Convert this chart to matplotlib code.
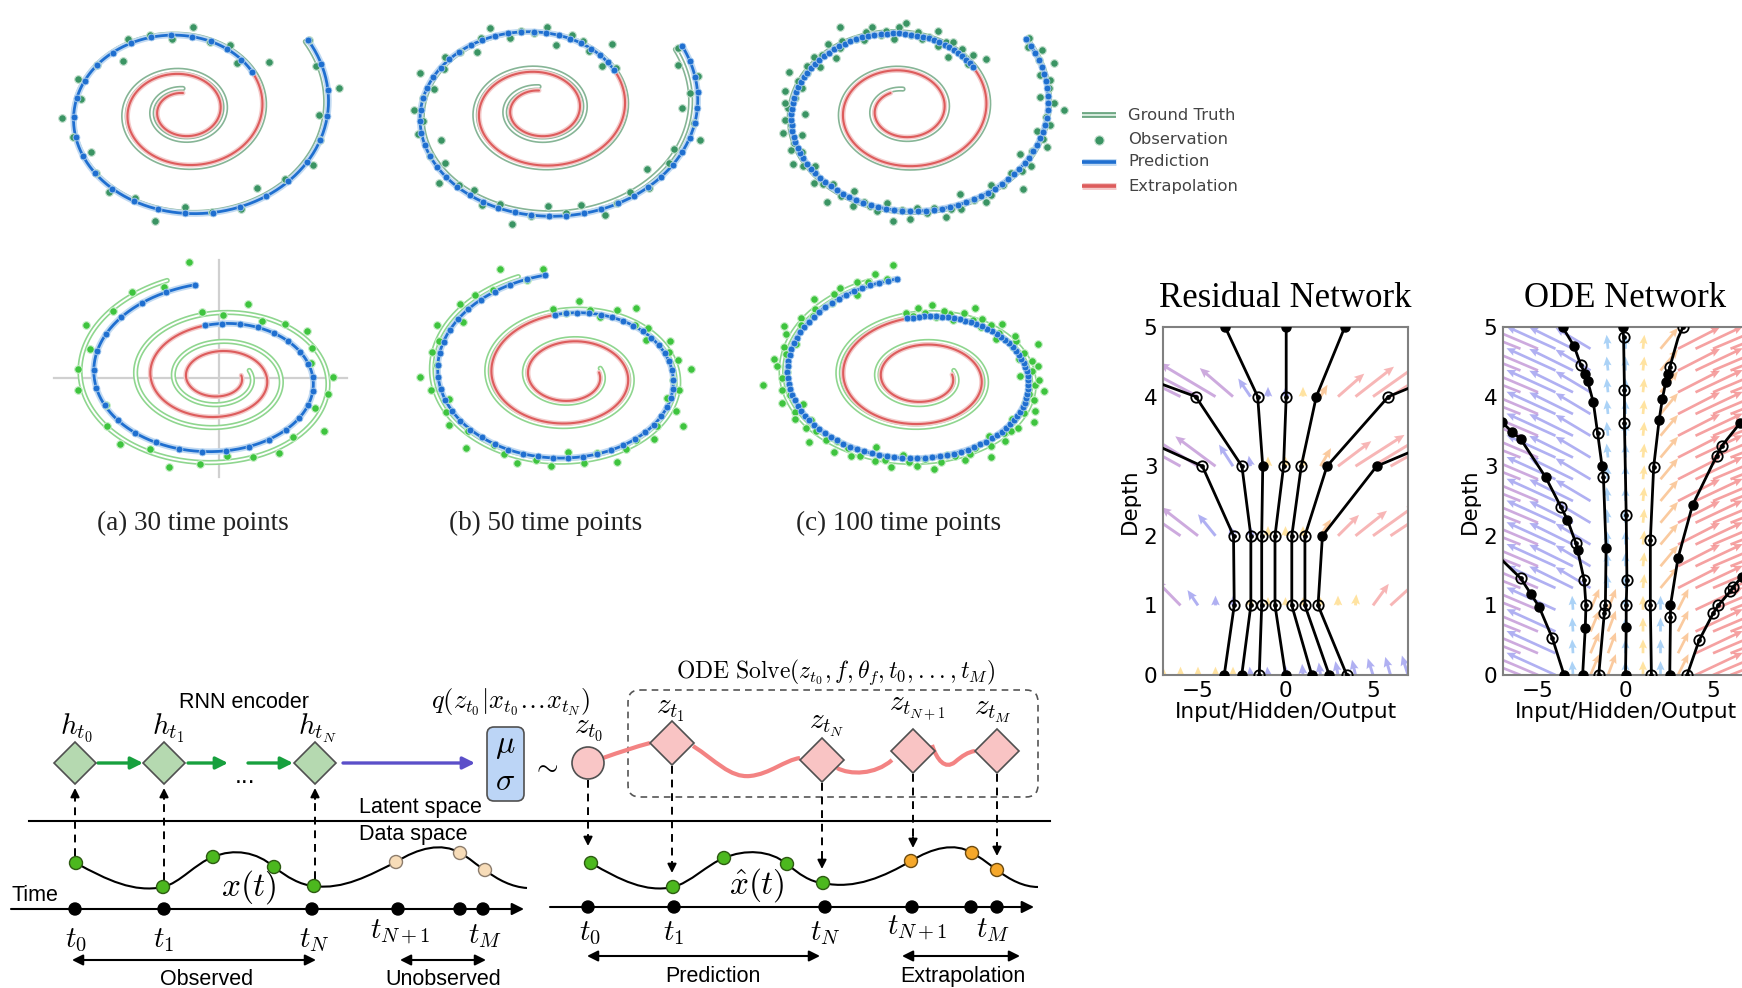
import numpy as np
import matplotlib
matplotlib.use("Agg")
import matplotlib.pyplot as plt
from matplotlib.patches import Polygon, Circle, FancyBboxPatch, PathPatch
from matplotlib.path import Path

W, H = 1742, 988
plt.rcParams['mathtext.fontset'] = 'cm'
plt.rcParams['font.family'] = ['DejaVu Sans']

# ---------------------------------------------------------------- spiral data
# spiral radius model r(s) = a + b*s + c*s^2, s = turns left before th_end
top_centers = [(183, 111), (539, 110), (903, 110)]
top_gt = [dict(a=27.8, b=11.1, c=11.1, sy=0.81), dict(a=30.3, b=12.6, c=11.4, sy=0.77),
          dict(a=26.5, b=16.4, c=9.85, sy=0.79)]
top_pred = [dict(a=22.2, b=11.1, c=12.2, sy=0.81), dict(a=25.3, b=10.1, c=13.9, sy=0.77),
            dict(a=23.4, b=16.4, c=10.1, sy=0.79)]
top_start = [35, 30, 36]
top_split = [-325, -325, -322]
top_stop = [-990, -990, -960]
top_end = -990

bot_centers = [(219, 378), (570, 376), (923, 378)]
bot_gt = [dict(a=32.2, b=18.9, c=8.9, sy=0.685), dict(a=32.2, b=18.9, c=8.84, sy=0.70),
          dict(a=32.8, b=19.3, c=9.1, sy=0.67)]
bot_pred = [dict(a=22.2, b=13.3, c=10.5, sy=0.675), dict(a=29, b=18.3, c=8.6, sy=0.70),
            dict(a=29, b=18.3, c=9.1, sy=0.67)]
bot_gt_start, bot_pred_start, bot_split, bot_stop, bot_end = 110, 100, 460, 1090, 1100

noise_30 = [4, -3, 14, -6, 2, 9, -2, -12, 5, 1, -7, 16, -3, 6, 0, -9, 3, 12, -4, 7,
            -1, -15, 5, 2, -6, 10, -2, 4, -8, 19]
noise_50 = [3, -5, 11, 0, -8, 6, 17, -3, 2, -12, 7, -1, 4, 14, -6, 1, -9, 5, 20, -2,
            8, -4, 0, 13, -7, 3, -15, 6, -1, 9, 2, -5, 16, -3, 7, 0, -10, 4, 12, -6,
            1, -2, 8, -13, 5, 3, -4, 18, -8, 2]
noise_100 = [2, -4, 7, -1, 12, -6, 3, 0, -9, 5, 15, -2, 4, -7, 1, 9, -3, -12, 6, 2,
             -5, 18, 0, -8, 3, 7, -1, -14, 5, 1, 10, -4, 2, -6, 8, -2, 13, -9, 4, 0,
             -3, 6, -11, 2, 16, -5, 1, 7, -2, -7, 3, 11, -4, 5, 0, -10, 8, -1, 4, -16,
             2, 6, -3, 9, -6, 1, 14, -2, 3, -8, 5, 0, -12, 7, -4, 2, 19, -1, -6, 4,
             8, -3, 1, -9, 6, 12, -2, 3, -5, 0, 10, -7, 2, 5, -13, 4, -1, 7, -4, 15]
noises = [noise_30, noise_50, noise_100]
captions = ["(a) 30 time points", "(b) 50 time points", "(c) 100 time points"]
caption_x = [193, 546, 899]

# ---------------------------------------------------------------- network data
res_x = list(range(-7, 8))
res_depths = [0, 1, 2, 3, 4]
res_u = [
    [0, 0, 0, 0, 0, -0.05, -0.05, 0, -0.05, -0.1, -0.15, -0.2, -0.3, -0.3, -0.35],
    [-2.2, -1.4, -0.6, 0, 0, 0, 0, 0, 0, 0, 0, 0.05, 0.9, 1.8, 2.5],
    [-3.2, -2.6, -2.1, -1.0, -0.2, 0, 0, 0, 0, 0.6, 1.2, 1.8, 2.5, 3.0, 3.5],
    [-4.2, -3.6, -3.0, -2.3, -0.8, -0.1, 0, 0, 0, 0.6, 1.9, 2.8, 3.3, 3.7, 4.0],
    [-5.2, -4.6, -4.0, -3.2, -1.9, -0.7, 0, 0, 0, 0.4, 1.5, 2.2, 2.7, 3.1, 3.5],
]
res_v = [
    [0.12, 0.12, 0.12, 0.12, 0.12, 0.12, 0.12, 0.14, 0.16, 0.18, 0.2, 0.22, 0.24, 0.26, 0.28],
    [0.45, 0.36, 0.22, 0.14, 0.14, 0.12, 0.12, 0.12, 0.12, 0.12, 0.14, 0.16, 0.31, 0.41, 0.45],
    [0.5, 0.45, 0.41, 0.31, 0.15, 0.14, 0.14, 0.14, 0.14, 0.24, 0.3, 0.36, 0.45, 0.5, 0.5],
    [0.55, 0.5, 0.47, 0.43, 0.31, 0.15, 0.14, 0.14, 0.14, 0.26, 0.36, 0.45, 0.5, 0.52, 0.55],
    [0.6, 0.57, 0.53, 0.48, 0.41, 0.26, 0.14, 0.14, 0.14, 0.17, 0.33, 0.43, 0.48, 0.5, 0.52],
]
res_cols = ["YYYYYBBBBBBBBBB", "PPBBBYYYYYYYKKK", "PPPBBBYYYOKKKKK",
            "PPPPBBYYYOKKKKK", "PPPPPBBBYOKKKKK"]

res_traj_x = [
    [-3.5, -2.93, -2.97, -4.75, -13.5, -22.0],
    [-2.5, -1.98, -1.98, -2.49, -5.13, -16.0],
    [-1.5, -1.36, -1.36, -1.30, -1.59, -3.45],
    [0.0, -0.60, -0.60, -0.11, 0.04, 0.04],
    [1.5, 0.36, 0.36, 0.90, 1.76, 3.39],
    [2.5, 1.11, 1.11, 2.37, 5.88, 15.5],
    [3.5, 1.86, 2.11, 5.21, 14.6, 24.0],
]
res_traj_marks = ["foooxx", "foooox", "ooofof", "foooof", "foooff", "foofox", "ooffxx"]

ode_x = list(range(-7, 8))
ode_u_high = [-3.4, -3.2, -3.0, -2.8, -2.5, -2.0, -0.08, 0, 0.08, 1.0, 2.4, 2.7, 3.0, 3.2, 3.4]
ode_v_high = [0.32, 0.32, 0.32, 0.32, 0.31, 0.3, 0.2, 0.2, 0.2, 0.3, 0.31, 0.32, 0.32, 0.32, 0.32]
ode_c_high = "PPPBBBLLYORRRRR"
ode_u_low = [-3.4, -3.2, -3.0, -2.8, -0.05, 0.5, 0.45, 0, 0, 0, 0.6, 2.7, 3.0, 3.2, 3.4]
ode_v_low = [0.32, 0.32, 0.32, 0.32, 0.2, 0.3, 0.3, 0.2, 0.2, 0.2, 0.3, 0.32, 0.32, 0.32, 0.32]
ode_c_low = "PPPBLOOLYLORRRR"

ode_traj = [
    ([-3.51, -4.18, -4.94, -5.42, -5.99, -7.05, -8.0],
     [0.0, 0.53, 0.98, 1.17, 1.39, 1.65, 1.9], "foffoxx"),
    ([-2.45, -2.30, -2.26, -2.36, -2.74, -2.83, -3.32, -3.70, -4.56, -5.99, -6.47, -7.05, -8.0],
     [0.0, 0.67, 1.0, 1.36, 1.80, 1.89, 2.23, 2.42, 2.84, 3.39, 3.49, 3.63, 3.8], "ffoofofoffffx"),
    ([-1.53, -1.21, -1.15, -1.11, -1.26, -1.34, -1.59, -1.84, -2.17, -2.30, -2.55, -2.93, -3.60],
     [0.0, 0.89, 1.0, 1.82, 2.84, 3.0, 3.47, 3.92, 4.23, 4.33, 4.45, 4.72, 5.0], "ooofofofffoff"),
    ([0.0, 0.04, 0.04, 0.08, 0.04, -0.06, -0.06, -0.11, -0.15],
     [0.0, 0.69, 1.0, 1.36, 2.3, 3.62, 4.1, 4.86, 5.0], "ffoooooof"),
    ([1.48, 1.42, 1.42, 1.61, 1.92, 2.11, 2.30, 2.43, 2.53, 3.0, 3.29],
     [0.0, 1.0, 1.94, 2.99, 3.66, 3.97, 4.21, 4.33, 4.42, 4.84, 5.0], "ooooffffoxo"),
    ([2.53, 2.57, 2.57, 3.0, 3.83, 5.21, 5.50, 6.55, 8.0],
     [0.0, 0.84, 1.0, 1.68, 2.44, 3.15, 3.29, 3.62, 4.0], "fofffoofx"),
    ([3.52, 4.21, 5.02, 5.30, 5.98, 6.17, 6.65, 8.0],
     [0.0, 0.5, 0.89, 1.0, 1.2, 1.27, 1.41, 1.7], "oooooofx"),
]

arrow_colors = dict(P='#a565c4', B='#7070e8', Y='#ffcc55', O='#f7a050',
                    K='#f27a7a', L='#66aef0', R='#ee5555')

fig = plt.figure(figsize=(W / 100, H / 100), dpi=100)

# ---------------------------------------------------------------- overlay axes (pixel units)
ov = fig.add_axes([0, 0, 1, 1])
ov.set_xlim(0, W)
ov.set_ylim(H, 0)
ov.axis('off')


def spiral(p, th, th_end, direction):
    th = np.asarray(th, float)
    s = direction * (th_end - th) / 360.0
    r = p['a'] + p['b'] * s + p['c'] * s ** 2
    t = np.radians(th)
    return r * np.cos(t), p['sy'] * r * np.sin(t), r


def spiral_axes(center):
    cx, cy = center
    ax = fig.add_axes([(cx - 190) / W, (H - (cy + 125)) / H, 380 / W, 250 / H])
    ax.set_xlim(-190, 190)
    ax.set_ylim(-125, 125)
    ax.axis('off')
    ax.patch.set_alpha(0)
    return ax


def draw_line(ax, x, y, kind, row):
    if kind == 'gt':
        col = '#86b596' if row == 0 else '#8fd68f'
        ax.plot(x, y, color=col, lw=3.8, solid_capstyle='round', zorder=1)
        ax.plot(x, y, color='white', lw=1.4, solid_capstyle='round', zorder=1.1)
    elif kind == 'pred':
        ax.plot(x, y, color='#c2daf2', lw=4.6, solid_capstyle='round', zorder=3)
        ax.plot(x, y, color='#1f6fd0', lw=2.0, solid_capstyle='round', zorder=3.1)
    else:
        ax.plot(x, y, color='#f4caca', lw=3.6, solid_capstyle='round', zorder=2)
        ax.plot(x, y, color='#dd5c5c', lw=1.5, solid_capstyle='round', zorder=2.1)


for i in range(3):
    # top row: clockwise spirals
    ax = spiral_axes(top_centers[i])
    th = np.linspace(top_start[i], top_end, 900)
    gx, gy, _ = spiral(top_gt[i], th, top_end, -1)
    draw_line(ax, gx, gy, 'gt', 0)
    th_b = np.linspace(top_start[i], top_split[i], 400)
    th_r = np.linspace(top_split[i], top_stop[i], 700)
    bx, by, _ = spiral(top_pred[i], th_b, top_end, -1)
    rx, ry, _ = spiral(top_pred[i], th_r, top_end, -1)
    draw_line(ax, rx, ry, 'ext', 0)
    draw_line(ax, bx, by, 'pred', 0)
    nz = np.array(noises[i], float)
    th_o = np.linspace(top_start[i], top_split[i], len(nz))
    ox, oy, orr = spiral(top_gt[i], th_o, top_end, -1)
    f = (orr + nz) / orr
    ax.scatter(ox * f, oy * f, s=30, color='#3a9463', edgecolors='#c4e0cf',
               linewidths=0.8, zorder=4)
    px, py, _ = spiral(top_pred[i], th_o, top_end, -1)
    ax.scatter(px, py, s=24, color='#1f6fd0', edgecolors='#a9ccef',
               linewidths=0.6, zorder=5)

    # bottom row: counter-clockwise spirals
    ax = spiral_axes(bot_centers[i])
    if i == 0:
        ax.plot([0, 0], [-99, 118], color='#d0d0d0', lw=1.6, zorder=0.5)
        ax.plot([-165, 128], [0, 0], color='#d0d0d0', lw=1.6, zorder=0.5)
    th = np.linspace(bot_gt_start, bot_end, 900)
    gx, gy, _ = spiral(bot_gt[i], th, bot_end, 1)
    draw_line(ax, gx, gy, 'gt', 1)
    th_b = np.linspace(bot_pred_start, bot_split, 400)
    th_r = np.linspace(bot_split, bot_stop, 700)
    bx, by, _ = spiral(bot_pred[i], th_b, bot_end, 1)
    rx, ry, _ = spiral(bot_pred[i], th_r, bot_end, 1)
    draw_line(ax, rx, ry, 'ext', 1)
    draw_line(ax, bx, by, 'pred', 1)
    nz = np.array(noises[i][::-1], float)
    th_o = np.linspace(bot_pred_start, bot_split, len(nz))
    ox, oy, orr = spiral(bot_gt[i], th_o, bot_end, 1)
    f = (orr + nz) / orr
    ax.scatter(ox * f, oy * f, s=30, color='#3ec43e', edgecolors='#c8eec8',
               linewidths=0.8, zorder=4)
    px, py, _ = spiral(bot_pred[i], th_o, bot_end, 1)
    ax.scatter(px, py, s=24, color='#1f6fd0', edgecolors='#a9ccef',
               linewidths=0.6, zorder=5)

    ov.text(caption_x[i], 523, captions[i], ha='center', va='center', fontsize=19.5,
            family='Liberation Serif', color='#222222')

# ---------------------------------------------------------------- legend
leg_y = [115, 140, 162, 186]
leg_labels = ["Ground Truth", "Observation", "Prediction", "Extrapolation"]
ov.plot([1082, 1116], [leg_y[0]] * 2, color='#6fa884', lw=4.2, solid_capstyle='butt')
ov.plot([1082, 1116], [leg_y[0]] * 2, color='#d8ebdf', lw=1.4, solid_capstyle='butt')
ov.scatter([1099], [leg_y[1]], s=45, color='#3a9463', edgecolors='#c4e0cf', linewidths=0.8)
ov.plot([1082, 1116], [leg_y[2]] * 2, color='#c2daf2', lw=5, solid_capstyle='butt')
ov.plot([1082, 1116], [leg_y[2]] * 2, color='#1f6fd0', lw=2.6, solid_capstyle='butt')
ov.plot([1082, 1116], [leg_y[3]] * 2, color='#f4caca', lw=5, solid_capstyle='butt')
ov.plot([1082, 1116], [leg_y[3]] * 2, color='#dd5c5c', lw=2.6, solid_capstyle='butt')
for yy, lab in zip(leg_y, leg_labels):
    ov.text(1128, yy, lab, ha='left', va='center', fontsize=11.8, color='#444444')

# ---------------------------------------------------------------- network panels


def net_axes(left_px, title):
    ax = fig.add_axes([left_px / W, (H - 675) / H, 245 / W, 348 / H])
    ax.set_xlim(-7, 7)
    ax.set_ylim(0, 5)
    ax.set_xticks([-5, 0, 5])
    ax.set_yticks(range(6))
    ax.tick_params(length=0, labelsize=15.5, pad=4)
    for sp in ax.spines.values():
        sp.set_color('#808080')
        sp.set_linewidth(1.5)
    ax.set_xlabel('Input/Hidden/Output', fontsize=15.5, labelpad=1)
    ax.set_ylabel('Depth', fontsize=15.5, labelpad=3)
    ax.text(0.5, 1.035, title, transform=ax.transAxes, ha='center', va='bottom',
            fontsize=25, family='Liberation Serif')
    return ax


def draw_traj(ax, xs, ds, marks):
    ax.plot(xs, ds, color='k', lw=2.0, zorder=3, solid_joinstyle='round')
    for x, d, m in zip(xs, ds, marks):
        if m == 'f':
            ax.plot(x, d, 'o', ms=6.5, color='k', zorder=4)
        elif m == 'o':
            ax.plot(x, d, 'o', ms=7.5, mfc='none', mec='k', mew=1.3, zorder=4)
            ax.plot(x, d, 'o', ms=2.4, color='k', zorder=5)


def quiver_rows(ax, xs, depths, U, V, C, width):
    X, Y, UU, VV, CC = [], [], [], [], []
    for d, ur, vr, cr in zip(depths, U, V, C):
        for x, u, v, c in zip(xs, ur, vr, cr):
            X.append(x); Y.append(d); UU.append(u); VV.append(v)
            CC.append(arrow_colors[c])
    ax.quiver(X, Y, UU, VV, color=CC, angles='xy', scale_units='xy', scale=1,
              width=width, headwidth=3.0, headlength=3.4, headaxislength=3.0,
              alpha=0.55, zorder=1)


axr = net_axes(1163, "Residual Network")
quiver_rows(axr, res_x, res_depths, res_u, res_v, res_cols, 0.012)
for xs, mk in zip(res_traj_x, res_traj_marks):
    draw_traj(axr, xs, list(range(6)), mk)

axe = net_axes(1503, "ODE Network")
ode_depths = np.arange(0, 5, 0.3125)
U = [ode_u_low if d < 1.2 else ode_u_high for d in ode_depths]
V = [ode_v_low if d < 1.2 else ode_v_high for d in ode_depths]
C = [ode_c_low if d < 1.2 else ode_c_high for d in ode_depths]
quiver_rows(axe, ode_x, ode_depths, U, V, C, 0.011)
for xs, ds, mk in ode_traj:
    draw_traj(axe, xs, ds, mk)

# ---------------------------------------------------------------- latent ODE diagram
GREEN_PT, GREEN_EDGE = '#4cb81e', '#2d5a12'
SANS = 'Liberation Sans'
SANS_SIZE = 15.5
MATH_SIZE = 21


def diamond(cx, cy, h, fc):
    ov.add_patch(Polygon([(cx - h, cy), (cx, cy - h), (cx + h, cy), (cx, cy + h)],
                         closed=True, fc=fc, ec='#505050', lw=1.2, zorder=5))


def arrow(x0, y0, x1, y1, color='k', lw=1.5, style='-|>', ms=16, z=4):
    ov.annotate('', xy=(x1, y1), xytext=(x0, y0),
                arrowprops=dict(arrowstyle=style, color=color, lw=lw, mutation_scale=ms,
                                shrinkA=0, shrinkB=0), zorder=z)


def dashed_arrow(x, y0, y1):
    sgn = 1 if y1 > y0 else -1
    ov.plot([x, x], [y0, y1 - sgn * 8], color='k', lw=1.4, ls=(0, (4, 3)), zorder=3)
    arrow(x, y1 - sgn * 11, x, y1, lw=1.4, ms=13)


def dot(x, y, r, fc, ec, lw=1.0, z=6):
    ov.add_patch(Circle((x, y), r, fc=fc, ec=ec, lw=lw, zorder=z))


def bezier(verts, color, lw, z=2):
    codes = [Path.MOVETO] + [Path.CURVE4] * (len(verts) - 1)
    ov.add_patch(PathPatch(Path(verts, codes), fc='none', ec=color, lw=lw, zorder=z))


# encoder
enc_x = [75, 164, 315]
enc_y = 763
enc_labels = [r'$h_{t_0}$', r'$h_{t_1}$', r'$h_{t_N}$']
enc_lab_x = [76, 168, 317]
for x, lab, lx in zip(enc_x, enc_labels, enc_lab_x):
    diamond(x, enc_y, 21, '#b5d9b0')
    ov.text(lx, 728, lab, ha='center', va='center', fontsize=MATH_SIZE)
for a, b in [(98, 143), (188, 228), (248, 293)]:
    arrow(a, enc_y, b, enc_y, color='#17a03e', lw=2.4, ms=18)
ov.text(245, 776, '...', ha='center', va='center', fontsize=18, family=SANS)
ov.text(244, 702, 'RNN encoder', ha='center', va='center', fontsize=SANS_SIZE, family=SANS)
arrow(343, enc_y, 475, enc_y, color='#5b4fc9', lw=2.4, ms=18)
ov.add_patch(FancyBboxPatch((490, 730), 31, 68, boxstyle='round,pad=3,rounding_size=7',
                            fc='#bcd5f6', ec='#505050', lw=1.2, zorder=5))
ov.text(505, 745, r'$\mu$', ha='center', va='center', fontsize=23, zorder=6)
ov.text(505, 782, r'$\sigma$', ha='center', va='center', fontsize=23, zorder=6)
ov.text(545, 766, r'$\sim$', ha='center', va='center', fontsize=20)
ov.text(511, 702, r'$q(z_{t_0}|x_{t_0}\ldots x_{t_N})$', ha='center', va='center', fontsize=19)

# latent / data space divider
ov.plot([29, 1050], [821, 821], color='k', lw=1.5)
ov.text(359, 807, 'Latent space', ha='left', va='center', fontsize=SANS_SIZE, family=SANS)
ov.text(359, 834, 'Data space', ha='left', va='center', fontsize=SANS_SIZE, family=SANS)

# observed data curve
x_verts = [(76, 863), (107, 880), (134, 893), (163, 887), (180, 883), (196, 863), (213, 857),
           (234, 848), (257, 852), (274, 867), (287, 877), (300, 885), (314, 886),
           (343, 890), (370, 875), (396, 862), (418, 848), (442, 842), (460, 853),
           (470, 858), (476, 865), (485, 870), (498, 880), (512, 887), (527, 888)]
bezier(x_verts, 'k', 1.5)
obs_pts = [(76, 863), (163, 887), (213, 857), (274, 867), (314, 886)]
unobs_pts = [(396, 862), (460, 853), (485, 870)]
for x, y in obs_pts:
    dot(x, y, 6.5, GREEN_PT, GREEN_EDGE)
for x, y in unobs_pts:
    dot(x, y, 6.5, '#f7dcb8', '#8c7c6c')
ov.text(249, 887, r'$x(t)$', ha='center', va='center', fontsize=24)
for x, y0 in zip(enc_x, [856, 880, 879]):
    dashed_arrow(x, y0, 788)

# left time axis
ov.text(11, 895, 'Time', ha='left', va='center', fontsize=SANS_SIZE, family=SANS)
arrow(11, 909, 524, 909, lw=1.5, ms=18)
left_times = [75, 164, 312, 398, 460, 483]
for x in left_times:
    dot(x, 909, 6, 'k', 'k', z=6)
t_labels = [r'$t_0$', r'$t_1$', r'$t_N$', r'$t_{N+1}$', r'$t_M$']
for (x, y), lab in zip([(76, 940), (164, 940), (314, 940), (400, 932), (485, 936)], t_labels):
    ov.text(x, y, lab, ha='center', va='center', fontsize=MATH_SIZE)
arrow(72, 960, 316, 960, style='<|-|>', lw=1.5, ms=16)
ov.text(207, 979, 'Observed', ha='center', va='center', fontsize=SANS_SIZE, family=SANS)
arrow(400, 960, 486, 960, style='<|-|>', lw=1.5, ms=16)
ov.text(443, 979, 'Unobserved', ha='center', va='center', fontsize=SANS_SIZE, family=SANS)

# latent trajectory
ov.text(836, 672, r'$\mathrm{ODE\ Solve}(z_{t_0}, f, \theta_f, t_0, ..., t_M)$',
        ha='center', va='center', fontsize=17)
ov.add_patch(FancyBboxPatch((636, 698), 394, 91, boxstyle='round,pad=8,rounding_size=12',
                            fc='none', ec='#555555', lw=1.2, ls=(0, (4, 3)), zorder=1))
pink = '#f38383'
bezier([(603, 758), (620, 752), (635, 747), (650, 743)], pink, 3)
bezier([(693, 746), (715, 760), (730, 778), (750, 776), (770, 774), (785, 760), (800, 758)], pink, 3)
bezier([(837, 768), (850, 775), (875, 775), (892, 760)], pink, 3)
bezier([(932, 745), (937, 760), (945, 770), (955, 762), (962, 756), (968, 752), (975, 751)], pink, 3)
dot(588, 763, 16, '#f9c6c6', '#505050', lw=1.2, z=5)
ov.text(589, 729, r'$z_{t_0}$', ha='center', va='center', fontsize=MATH_SIZE)
lat_x = [672, 822, 913, 997]
lat_y = [743, 760, 751, 751]
lat_labels = [r'$z_{t_1}$', r'$z_{t_N}$', r'$z_{t_{N+1}}$', r'$z_{t_M}$']
lat_lab_pos = [(670, 710), (827, 725), (917, 710), (993, 711)]
for x, y in zip(lat_x, lat_y):
    diamond(x, y, 22, '#f9c4c4')
for (x, y), lab in zip(lat_lab_pos, lat_labels):
    ov.text(x, y, lab, ha='center', va='center', fontsize=MATH_SIZE)
for x, y0, y1 in zip([588] + lat_x, [780, 766, 783, 774, 774], [846, 873, 869, 848, 856]):
    dashed_arrow(x, y0, y1)

# decoded curve
xh_verts = [(591, 863), (620, 880), (646, 893), (673, 887), (690, 883), (708, 864), (724, 858),
            (745, 849), (770, 850), (787, 864), (799, 874), (810, 882), (823, 883),
            (855, 890), (885, 876), (911, 861), (932, 848), (955, 842), (972, 853),
            (982, 858), (990, 865), (997, 870), (1010, 880), (1024, 887), (1038, 887)]
bezier(xh_verts, 'k', 1.5)
pred_pts = [(591, 863), (673, 887), (724, 858), (787, 864), (823, 883)]
extr_pts = [(911, 861), (972, 853), (997, 870)]
for x, y in pred_pts:
    dot(x, y, 6.5, GREEN_PT, GREEN_EDGE)
for x, y in extr_pts:
    dot(x, y, 6.5, '#f6a82a', '#6b4a10')
ov.text(757, 885, r'$\hat{x}(t)$', ha='center', va='center', fontsize=24)

# right time axis
arrow(550, 907, 1034, 907, lw=1.5, ms=18)
right_times = [588, 674, 825, 912, 971, 997]
for x in right_times:
    dot(x, 907, 6, 'k', 'k', z=6)
for (x, y), lab in zip([(590, 933), (674, 933), (825, 933), (917, 928), (993, 930)], t_labels):
    ov.text(x, y, lab, ha='center', va='center', fontsize=MATH_SIZE)
arrow(587, 956, 820, 956, style='<|-|>', lw=1.5, ms=16)
ov.text(713, 976, 'Prediction', ha='center', va='center', fontsize=SANS_SIZE, family=SANS)
arrow(902, 956, 1020, 956, style='<|-|>', lw=1.5, ms=16)
ov.text(963, 976, 'Extrapolation', ha='center', va='center', fontsize=SANS_SIZE, family=SANS)

fig.savefig('out.png', dpi=100)
